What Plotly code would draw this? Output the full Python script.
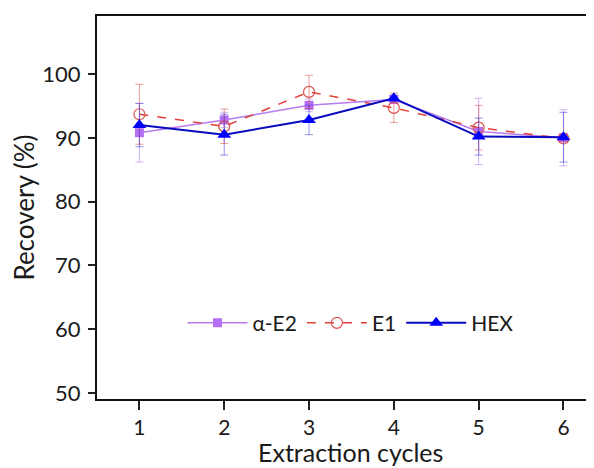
import plotly.graph_objects as go

cycles = [1, 2, 3, 4, 5, 6]
ae2 = [90.8, 92.8, 95.1, 96.0, 91.0, 90.0]
ae2_err = [4.6, 1.2, 1.0, 0.5, 5.2, 4.4]
e1 = [93.7, 91.8, 97.2, 94.7, 91.6, 89.9]
e1_err = [4.7, 2.7, 2.6, 2.3, 3.5, 0.5]
hexv = [92.0, 90.5, 92.8, 96.2, 90.2, 90.1]
hex_err = [3.4, 3.2, 2.3, 0.5, 2.9, 3.9]
x_title = "Extraction cycles"
y_title = "Recovery (%)"

fig = go.Figure()
fig.add_trace(go.Scatter(
    x=cycles, y=ae2, name="α-E2", mode="lines+markers",
    line=dict(color="#B57BF0", width=1.5),
    marker=dict(symbol="square", size=9, color="#B46EF5"),
    error_y=dict(type="data", array=ae2_err, color="rgba(170,120,240,0.55)", thickness=1, width=4),
))
fig.add_trace(go.Scatter(
    x=cycles, y=e1, name="E1", mode="lines+markers",
    line=dict(color="#E0403A", width=1.5, dash="dash"),
    marker=dict(symbol="circle-open", size=11, color="#D9534F", line=dict(width=1.2)),
    error_y=dict(type="data", array=e1_err, color="rgba(224,80,70,0.55)", thickness=1, width=4),
))
fig.add_trace(go.Scatter(
    x=cycles, y=hexv, name="HEX", mode="lines+markers",
    line=dict(color="#0A0AC0", width=2),
    marker=dict(symbol="triangle-up", size=12, color="#0000FF"),
    error_y=dict(type="data", array=hex_err, color="rgba(60,60,220,0.55)", thickness=1, width=4),
))

font_family = "Lato, 'Open Sans', sans-serif"
fig.update_layout(
    width=586, height=460,
    margin=dict(l=89, r=0, t=8, b=69, autoexpand=False),
    paper_bgcolor="white", plot_bgcolor="white",
    font=dict(family=font_family, size=22, color="#1a1a1a"),
    showlegend=True,
    legend=dict(orientation="h", x=0.51, y=0.198, xanchor="center", yanchor="middle",
                font=dict(size=21), bgcolor="rgba(0,0,0,0)", itemwidth=60,
                traceorder="normal"),
    xaxis=dict(range=[0.5, 6.36], tickvals=cycles, ticks="outside", ticklen=9, tickwidth=1.5,
               tickcolor="#222", showline=True, linecolor="#111", linewidth=2, mirror=True,
               showgrid=False, zeroline=False, automargin=False, ticklabelstandoff=0,
               tickfont=dict(size=21)),
    yaxis=dict(range=[49.06, 109.1], tickvals=[50, 60, 70, 80, 90, 100], ticks="outside",
               ticklen=7, tickwidth=1.5, tickcolor="#222", showline=True, linecolor="#111",
               linewidth=2, showgrid=False, zeroline=False, automargin=False,
               ticklabelstandoff=3,
               title=dict(text=y_title, standoff=0, font=dict(size=26))),
    annotations=[dict(text=x_title, xref="paper", yref="paper", x=0.51, y=-0.094,
                      xanchor="center", yanchor="top", showarrow=False,
                      font=dict(size=25))],
)
fig.write_html("out.html")
